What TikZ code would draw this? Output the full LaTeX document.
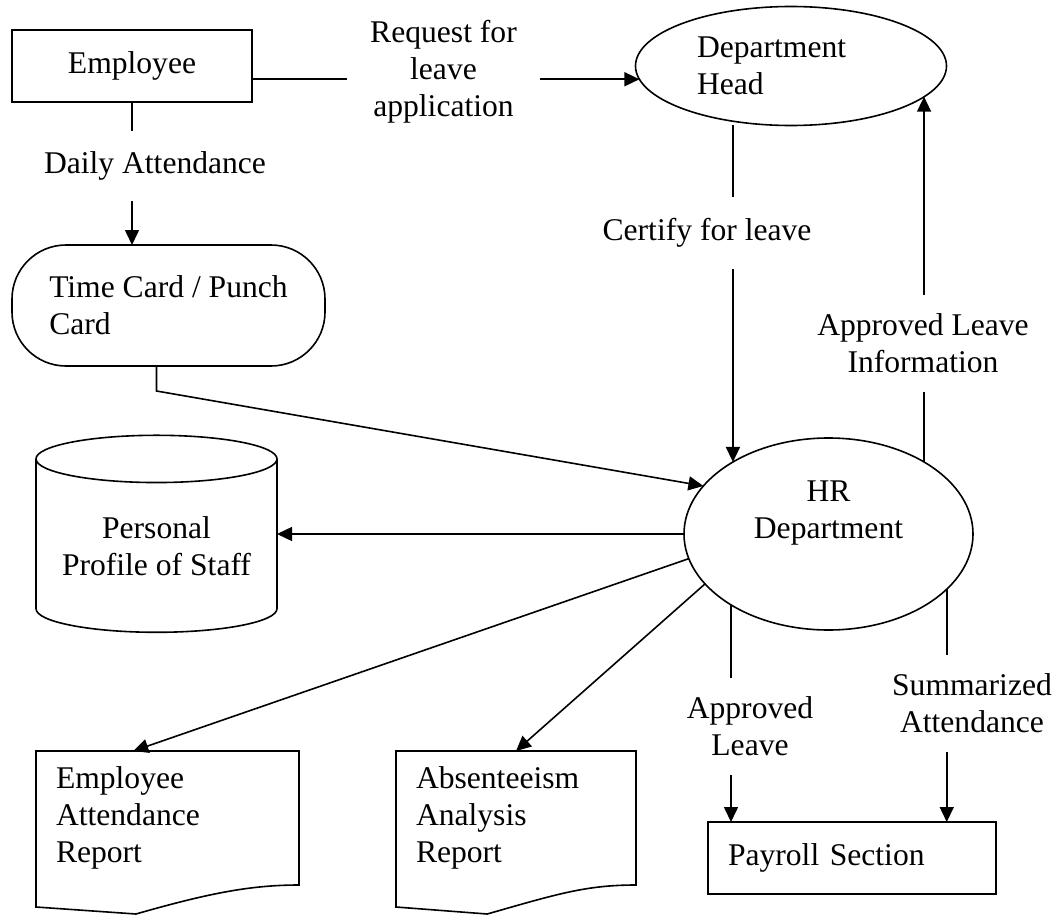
\documentclass[tikz,border=0pt]{standalone}
\usepackage{fontspec}
\setmainfont{Liberation Serif}
\usepackage{tikz}
\usetikzlibrary{shapes.geometric,arrows.meta,calc}

\begin{document}
\begin{tikzpicture}[
    x=0.5pt, y=-0.5pt,
    every node/.style={font=\fontsize{15.8}{18.5}\selectfont, inner sep=0pt, outer sep=0pt},
    box/.style={draw, line width=0.8pt, align=left},
    doc/.style={align=left},
    lbl/.style={align=center},
    line/.style={line width=0.8pt},
    arr/.style={line, -{Triangle[length=7.5pt,width=7pt]}}
  ]
  \useasboundingbox (0,0) rectangle (1055,915);

  % sources, stores and reports
  \node[box, minimum width=120pt, minimum height=36pt, align=center] (emp) at (132,66) {Employee};
  \node[box, ellipse, minimum width=155.5pt, minimum height=59.5pt, text width=94pt] (dhead) at (791,66) {Department\\Head};
  \node[box, rounded corners=27pt, minimum width=156.5pt, minimum height=60.5pt] (tcard) at (168.5,305.5) {Time Card / Punch\\Card};
  \node[box, cylinder, shape border rotate=90, aspect=0.25, minimum width=120.5pt, minimum height=98.5pt, align=center] (staff) at (156.5,546) {Personal\\Profile of Staff};
  \node[box, ellipse, minimum width=144.5pt, minimum height=96pt, align=center, text depth=24pt] (hr) at (828.5,534) {HR\\Department};
  \node[doc, minimum width=131.5pt, minimum height=67pt, text width=111.5pt] (repA) at (167.5,818) {Employee\\Attendance\\Report};
  \node[doc, minimum width=120pt, minimum height=67pt, text width=100pt] (repB) at (516,818) {Absenteeism\\Analysis\\Report};
  \node[box, minimum width=144pt, minimum height=36pt, text width=124pt] (pay) at (852,858) {Payroll Section};

  % flow labels
  \node[lbl, minimum width=96.5pt] (req) at (443.5,72) {Request for\\leave\\application};
  \node[lbl, minimum height=35pt] (daily) at (155,166) {Daily Attendance};
  \node[lbl, minimum height=36pt] (cert) at (707,233) {Certify for leave};
  \node[lbl, minimum height=48.5pt] (ali) at (923,343.5) {Approved Leave\\Information};
  \node[lbl, minimum height=48.5pt] (aprl) at (750,726.5) {Approved\\Leave};
  \node[lbl, minimum height=48.5pt] (summ) at (972,703.5) {Summarized\\Attendance};

  % document outlines
  \foreach \r in {repA,repB}
    \draw[line] (\r.north west) -- (\r.north east) -- (\r.south east)
      .. controls +(-50,0) and +(70,-20) .. ($(\r.south west)!0.38!(\r.south east)+(0,29)$)
      -- ($(\r.south west)+(0,22)$) -- cycle;

  \draw[line] (emp.east |- dhead.185) -- (req.west |- dhead.185);
  \draw[arr] (req.east |- dhead.185) -- (dhead.185);
  \draw[line] (emp.south) -- (emp.south |- daily.north);
  \draw[arr] (emp.south |- daily.south) -- (emp.south |- tcard.north);
  \draw[line] (hr.143.5 |- dhead.south) -- (hr.143.5 |- cert.north);
  \draw[arr] (hr.143.5 |- cert.south) -- (hr.143.5);
  \draw[line] (hr.37.5) -- (hr.37.5 |- ali.south);
  \draw[arr] (hr.37.5 |- ali.north) -- (hr.37.5 |- dhead.-13);
  \draw[arr] ([xshift=-6pt]tcard.south) -- ++(0,25) -- (hr.159);
  \draw[arr] (hr.west) -- (hr.west -| staff.east);
  \draw[arr] (hr.190) -- ($(repA.north west)!0.37!(repA.north east)$);
  \draw[arr] (hr.202) -- (repB.north);
  \draw[line] (hr.216.5) -- (hr.216.5 |- aprl.north);
  \draw[arr] (hr.216.5 |- aprl.south) -- (hr.216.5 |- pay.north);
  \draw[line] (hr.-25) -- (hr.-25 |- summ.north);
  \draw[arr] (hr.-25 |- summ.south) -- (hr.-25 |- pay.north);
\end{tikzpicture}
\end{document}
